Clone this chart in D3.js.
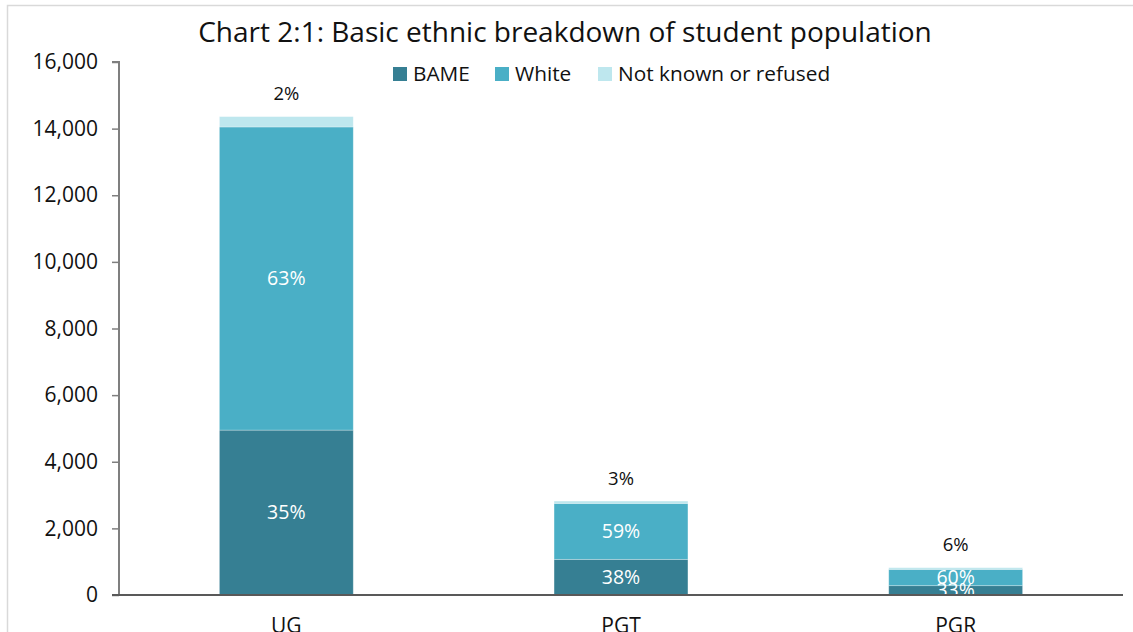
<!DOCTYPE html>
<html>
<head>
<meta charset="utf-8">
<script src="https://cdn.jsdelivr.net/npm/d3@7"></script>
<style>
  html, body { margin: 0; padding: 0; background: #fff; overflow: hidden; }
  svg { display: block; font-family: "Open Sans", sans-serif; }
</style>
</head>
<body>
<svg id="chart" width="1133" height="632"></svg>
<script>
  // Data
  const categories = ['UG', 'PGT', 'PGR'];
  const seriesNames = ['BAME', 'White', 'Not known or refused'];
  const bame = [4950, 1070, 280];
  const white = [9100, 1680, 490];
  const notKnown = [310, 70, 50];
  const pctBame = ['35%', '38%', '33%'];
  const pctWhite = ['63%', '59%', '60%'];
  const pctNotKnown = ['2%', '3%', '6%'];
  const yTicks = [0, 2000, 4000, 6000, 8000, 10000, 12000, 14000, 16000];

  const COLORS = ['#367f93', '#4aafc6', '#bee7ee'];

  const W = 1133, H = 632;
  const m = { left: 119, right: 10, top: 62, bottom: 37 };

  const svg = d3.select('#chart');

  // Chart frame (cut off at right and bottom, as in the reference)
  svg.append('rect')
    .attr('x', 7.5).attr('y', 5.5)
    .attr('width', 1300).attr('height', 800)
    .attr('fill', 'none').attr('stroke', '#d9d9d9').attr('stroke-width', 1.5);

  const x = d3.scaleBand()
    .domain(categories)
    .range([m.left, 1123])
    .paddingInner(0.6)
    .paddingOuter(0.3);

  const y = d3.scaleLinear()
    .domain([0, 16000])
    .range([H - m.bottom, m.top]);

  const rows = categories.map((c, i) => ({
    cat: c, BAME: bame[i], White: white[i], 'Not known or refused': notKnown[i],
    labels: [pctBame[i], pctWhite[i], pctNotKnown[i]]
  }));
  const stacked = d3.stack().keys(seriesNames)(rows);

  // Bars
  const layer = svg.append('g').selectAll('g').data(stacked).join('g')
    .attr('fill', (d, i) => COLORS[i]);

  layer.selectAll('rect').data(d => d).join('rect')
    .attr('x', d => x(d.data.cat))
    .attr('width', x.bandwidth())
    .attr('y', d => y(d[1]))
    .attr('height', d => y(d[0]) - y(d[1]))
    .attr('stroke', 'rgba(255,255,255,0.35)')
    .attr('stroke-width', 0.8);

  // Data labels: inside for BAME / White, above for Not known
  stacked.forEach((s, si) => {
    svg.append('g').selectAll('text').data(s).join('text')
      .attr('x', d => x(d.data.cat) + x.bandwidth() / 2)
      .attr('y', d => si < 2 ? (y(d[0]) + y(d[1])) / 2 : y(d[1]) - 23)
      .attr('dy', '0.35em')
      .attr('text-anchor', 'middle')
      .attr('font-size', si < 2 ? 19.5 : 18.5)
      .attr('fill', si < 2 ? '#fff' : '#111')
      .text(d => d.data.labels[si]);
  });

  // Y axis
  const yAxis = svg.append('g')
    .attr('transform', `translate(${m.left},0)`)
    .call(d3.axisLeft(y).tickValues(yTicks).tickSize(7).tickPadding(14)
      .tickFormat(d3.format(',')));
  yAxis.select('.domain').attr('stroke', '#7f7f7f').attr('stroke-width', 2)
    .attr('d', `M-7,${y(16000)}H0V${y(0)}`);
  yAxis.selectAll('.tick line').attr('stroke', '#7f7f7f').attr('stroke-width', 1.5);
  yAxis.selectAll('.tick text')
    .attr('font-size', 21).attr('fill', '#111')
    .attr('font-family', '"Open Sans", sans-serif');

  // X axis
  const xAxis = svg.append('g')
    .attr('transform', `translate(0,${y(0)})`)
    .call(d3.axisBottom(x).tickSize(0).tickPadding(23));
  xAxis.select('.domain').attr('stroke', '#595959').attr('stroke-width', 2)
    .attr('d', `M112,0H1123`);
  xAxis.selectAll('.tick text')
    .attr('font-size', 21).attr('fill', '#111')
    .attr('font-family', '"Open Sans", sans-serif');

  // Title
  svg.append('text')
    .attr('x', 565).attr('y', 42)
    .attr('text-anchor', 'middle')
    .attr('font-size', 28)
    .attr('fill', '#111')
    .text('Chart 2:1: Basic ethnic breakdown of student population');

  // Legend
  const legendX = [393, 495, 598];
  const legend = svg.append('g').selectAll('g').data(seriesNames).join('g')
    .attr('transform', (d, i) => `translate(${legendX[i]},67)`);
  legend.append('rect')
    .attr('width', 14).attr('height', 14)
    .attr('fill', (d, i) => COLORS[i]);
  legend.append('text')
    .attr('x', 20).attr('y', 7).attr('dy', '0.35em')
    .attr('font-size', 20.8)
    .attr('fill', '#111')
    .text(d => d);
</script>
</body>
</html>
